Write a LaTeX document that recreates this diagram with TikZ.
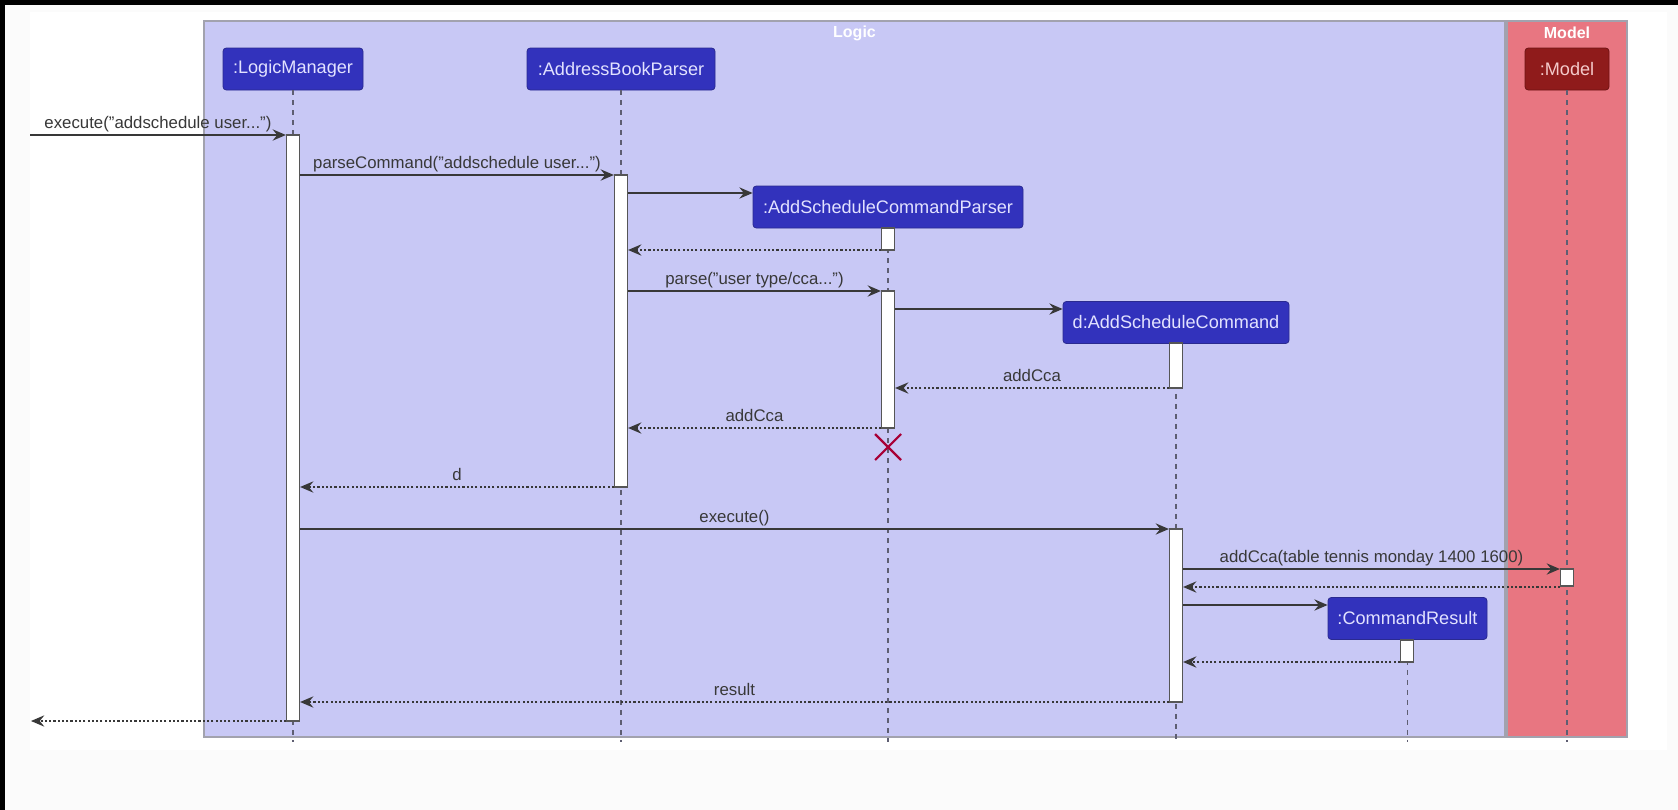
\documentclass[tikz,border=0pt]{standalone}
\usepackage{fontspec}
\setmainfont{Liberation Sans}
\usetikzlibrary{arrows.meta,fit}
\definecolor{logicbg}{HTML}{C8C8F5}
\definecolor{modelbg}{HTML}{E87681}
\definecolor{framebd}{HTML}{A2A2AE}
\definecolor{partblue}{HTML}{3232BC}
\definecolor{partbluebd}{HTML}{2A2A90}
\definecolor{parttext}{HTML}{E2E2FF}
\definecolor{modelpart}{HTML}{8F1B1B}
\definecolor{modelpartbd}{HTML}{6E1414}
\definecolor{modeltext}{HTML}{F4CACA}
\definecolor{linegray}{HTML}{383838}
\definecolor{lifegray}{HTML}{5E5E72}
\definecolor{destroyred}{HTML}{A80036}
\definecolor{offwhite}{HTML}{FBFBFB}
\begin{document}
\begin{tikzpicture}[x=0.75pt,y=-0.75pt,
  frame/.style={draw=framebd, line width=1.1pt, inner sep=0pt},
  ftitle/.style={font=\fontsize{12}{14}\selectfont\bfseries, text=white, inner sep=0pt},
  part/.style={draw=partbluebd, fill=partblue, text=parttext, rounded corners=2.5pt,
    font=\fontsize{13.6}{16}\selectfont, minimum height=31.5pt, inner sep=0pt, line width=0.6pt},
  mpart/.style={part, draw=modelpartbd, fill=modelpart, text=modeltext},
  act/.style={draw=linegray!85, fill=white, line width=0.9pt, inner sep=0pt},
  msg/.style={draw=linegray, line width=0.9pt, -{Stealth[length=10pt,width=8.5pt,inset=3.5pt]}},
  ret/.style={msg, dash pattern=on 1.6pt off 1.6pt},
  life/.style={draw=lifegray, line width=0.8pt, dash pattern=on 3.75pt off 3.75pt},
  lbl/.style={font=\fontsize{12.6}{15}\selectfont, text=linegray, anchor=base, inner sep=0pt, yshift=4.9pt}]
% background
\useasboundingbox (0,0) rectangle (1678,810);
\fill[offwhite] (0,0) rectangle (1678,810);
\fill[white] (30,12) rectangle (1667,750);
\fill[black] (0,0) rectangle (1678,5);
\fill[black] (0,0) rectangle (5,810);
% frames
\node[frame, fill=logicbg, fit={(204,21)(1505,737)}] (logic) {};
\node[frame, fill=modelbg, fit={(1507,21)(1627,737)}] (model) {};
\node[ftitle] (logict) at (854.5,33) {Logic};
\node[ftitle] (modelt) at (1567,33) {Model};
% participants
\node[part, minimum width=105pt] (lm) at (293,69) {:LogicManager};
\node[part, minimum width=141pt] (abp) at (621,69) {:AddressBookParser};
\node[part, minimum width=202.5pt] (ascp) at (888,207) {:AddScheduleCommandParser};
\node[part, minimum width=169.5pt] (asc) at (1176,322.5) {d:AddScheduleCommand};
\node[part, minimum width=119.25pt] (cr) at (1407.5,618.5) {:CommandResult};
\node[mpart, minimum width=63pt] (mdl) at (1567,69) {:Model};
% lifeline ends
\coordinate (lmend) at (293,742);
\coordinate (abpend) at (621,742);
\coordinate (ascpend) at (888,742);
\coordinate (ascend) at (1176,742);
\coordinate (crend) at (1407.5,742);
\coordinate (mdlend) at (1567,742);
\draw[life] (lm.south) -- (lmend);
\draw[life] (abp.south) -- (abpend);
\draw[life] (ascp.south) -- (ascpend);
\draw[life] (asc.south) -- (ascend);
\draw[life] (cr.south) -- (crend);
\draw[life] (mdl.south) -- (mdlend);
% activation bars
\node[act, fit={(286.5,135)(299.5,721)}] (lma) {};
\node[act, fit={(614.5,175)(627.5,487)}] (abpa) {};
\node[act, fit={(881.5,228)(894.5,250)}] (ascpa) {};
\node[act, fit={(881.5,291)(894.5,428)}] (ascpb) {};
\node[act, fit={(1169.5,343)(1182.5,388)}] (asca) {};
\node[act, fit={(1169.5,529)(1182.5,702)}] (ascb) {};
\node[act, fit={(1560.5,569)(1573.5,586)}] (mdla) {};
\node[act, fit={(1400.5,640)(1413.5,662)}] (cra) {};
% messages
\coordinate (ext) at (30,135);
\coordinate (extret) at (31,721);
\draw[msg] (ext) -- (lma.west |- ext) node[lbl, midway] {execute("addschedule user...")};
\draw[msg] (lma.east |- 0,175) -- (abpa.west |- 0,175) node[lbl, midway] {parseCommand("addschedule user...")};
\draw[msg] (abpa.east |- 0,193) -- (ascp.west |- 0,193);
\draw[ret] (ascpa.west |- 0,250) -- (abpa.east |- 0,250);
\draw[msg] (abpa.east |- 0,291) -- (ascpb.west |- 0,291) node[lbl, midway] {parse("user type/cca...")};
\draw[msg] (ascpb.east |- 0,309) -- (asc.west |- 0,309);
\draw[ret] (asca.west |- 0,388) -- (ascpb.east |- 0,388) node[lbl, midway] {addCca};
\draw[ret] (ascpb.west |- 0,428) -- (abpa.east |- 0,428) node[lbl, midway] {addCca};
\draw[ret] (abpa.west |- 0,487) -- (lma.east |- 0,487) node[lbl, midway] {d};
\draw[msg] (lma.east |- 0,529) -- (ascb.west |- 0,529) node[lbl, midway] {execute()};
\draw[msg] (ascb.east |- 0,569) -- (mdla.west |- 0,569) node[lbl, midway] {addCca(table tennis monday 1400 1600)};
\draw[ret] (mdla.west |- 0,587) -- (ascb.east |- 0,587);
\draw[msg] (ascb.east |- 0,605) -- (cr.west |- 0,605);
\draw[ret] (cra.west |- 0,662) -- (ascb.east |- 0,662);
\draw[ret] (ascb.west |- 0,702) -- (lma.east |- 0,702) node[lbl, midway] {result};
\draw[ret] (lma.west |- extret) -- (extret);
% destroy
\coordinate (x1) at (875,434);
\coordinate (x2) at (901,460);
\coordinate (x3) at (875,460);
\coordinate (x4) at (901,434);
\draw[destroyred, line width=1.6pt] (x1) -- (x2) (x3) -- (x4);
\end{tikzpicture}
\end{document}
